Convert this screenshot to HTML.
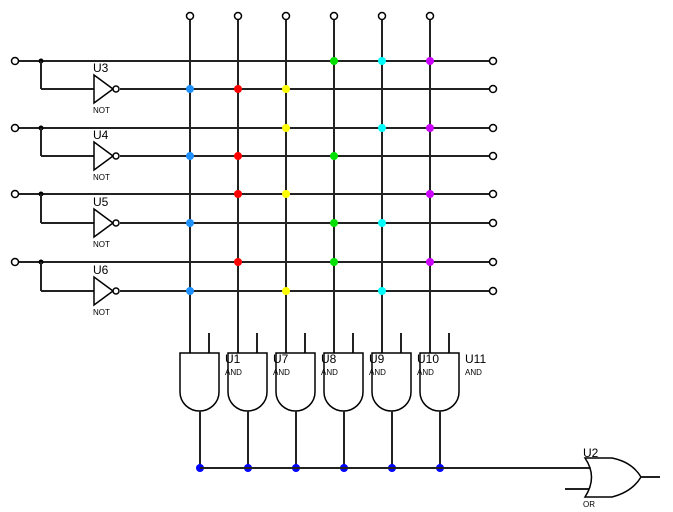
<!DOCTYPE html>
<html><head><meta charset="utf-8"><style>
body{margin:0;background:#fff;}
svg{display:block;font-family:"Liberation Sans",sans-serif;}
</style></head><body>
<svg id="s" width="673" height="512" viewBox="0 0 673 512"></svg>
<script>
const colX=[190,238,286,334,382,430];
const rowY=[61,89,128,156,194,223,262,291];
const dotColors=['#1e90ff','#ff0000','#ffff00','#00e000','#00ffff','#cc00ff'];
// each row: which columns have a dot
const rowDots=[[3,4,5],[0,1,2],[2,4,5],[0,1,3],[1,2,5],[0,3,4],[1,3,5],[0,2,4]];
const notLabels=['U3','U4','U5','U6'];
const andLabels=['U1','U7','U8','U9','U10','U11'];
const NS='http://www.w3.org/2000/svg';
const s=document.getElementById('s');
function el(t,a,name,parent){const e=document.createElementNS(NS,t);for(const k in a)e.setAttribute(k,a[k]);


(parent||s).appendChild(e);return e;}
const W={stroke:'#222','stroke-width':2,fill:'none'};
function line(x1,y1,x2,y2,n){return el('line',Object.assign({x1,y1,x2,y2},W),n);}
function txt(x,y,t,sz,n){const e=el('text',{x,y,'font-size':sz,fill:'#000'},n);e.textContent=t;return e;}
function pin(x,y,n){const c=el('circle',{cx:x,cy:y,r:3.5,fill:'#fff',stroke:'#000','stroke-width':1.5},n);return c;}
colX.forEach((x,i)=>{line(x,20,x,353,'column-wire-'+i);});
rowY.forEach((y,i)=>{
  if(i%2===0){line(19,y,489,y,'input-wire-'+i);}
  else{line(120,y,489,y,'inverted-wire-'+i);}
});
for(let k=0;k<4;k++){
  const y=rowY[2*k],yn=rowY[2*k+1];
  el('circle',{cx:41,cy:y,r:2.5,fill:'#000'},'junction-'+k);
  line(41,y,41,yn,'branch-wire-'+k);line(41,yn,94,yn,'branch-wire-h-'+k);
  el('polygon',{points:`94,${yn-14} 94,${yn+14} 113,${yn}`,fill:'#fff',stroke:'#000','stroke-width':1.5},'not-gate-'+notLabels[k]);
  el('circle',{cx:116,cy:yn,r:3,fill:'#fff',stroke:'#000','stroke-width':1.5},'not-bubble-'+k);
  txt(93,yn-17,notLabels[k],12,'not-label-'+notLabels[k]);
  txt(93,yn+24,'NOT',8,'not-type-'+k);
  pin(15,y,'input-pin-'+k);
}
rowY.forEach((y,i)=>pin(493,y,'output-pin-'+i));
colX.forEach((x,i)=>pin(x,16,'top-pin-'+i));
rowDots.forEach((cols,r)=>cols.forEach(c=>{
  el('circle',{cx:colX[c],cy:rowY[r],r:4,fill:dotColors[c]},'dot-r'+r+'-c'+c);
}));
colX.forEach((x,i)=>{
  const l=x-10,r=x+29,cx=x+10;
  line(r-10,333,r-10,353,'and-input2-'+i);
  el('path',{d:`M${l},353 H${r} V392 A19.5,19 0 0 1 ${l},392 Z`,fill:'#fff',stroke:'#000','stroke-width':1.5},'and-gate-'+andLabels[i]);
  line(cx,411,cx,468,'and-output-wire-'+i);
  el('circle',{cx:cx,cy:468,r:4,fill:'#0000ff'},'bus-dot-'+i);
});
colX.forEach((x,i)=>{
  txt(x+35,363,andLabels[i],12,'and-label-'+andLabels[i]);
  txt(x+35,375,'AND',8,'and-type-'+i);
});
line(200,468,590,468,'or-bus-wire');
line(565,489,590,489,'or-input2-wire');
el('path',{d:'M585,458 H612 Q632,462 641,477 Q632,492 612,497 H585 Q598,477 585,458 Z',fill:'#fff',stroke:'#000','stroke-width':1.5},'or-gate-U2');
line(641,477,660,477,'or-output-wire');
txt(583,457,'U2',12,'or-label');
txt(583,507,'OR',8,'or-type');
</script>
</body></html>
